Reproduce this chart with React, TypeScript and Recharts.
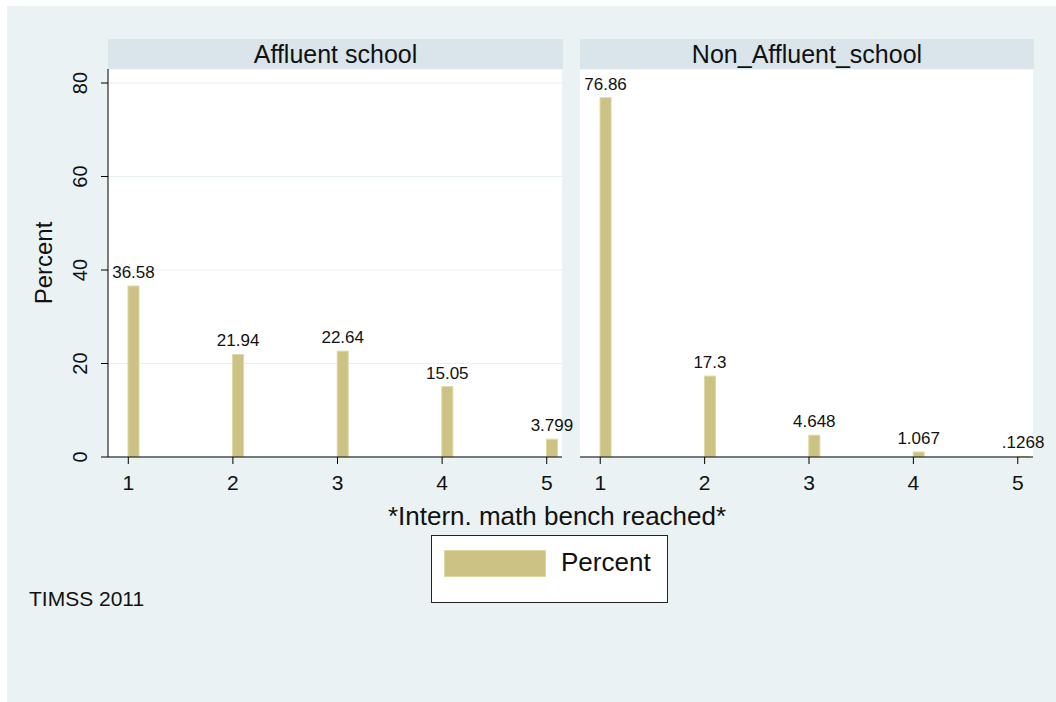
import React from "react";
import { BarChart, Bar, XAxis, YAxis, CartesianGrid, LabelList } from "recharts";

const benchmarks = [1, 2, 3, 4, 5];
const affluentPct = [36.58, 21.94, 22.64, 15.05, 3.799];
const nonAffluentPct = [76.86, 17.3, 4.648, 1.067, 0.1268];
const yTicks = [0, 20, 40, 60, 80];
const panelTitles = ["Affluent school", "Non_Affluent_school"];

const FONT = '"Liberation Sans", Arial, Helvetica, sans-serif';
const BG = "#eaf2f3";
const STRIP = "#d9e5eb";
const BAR = "#cbc283";
const BAR_EDGE = "#ddd8a2";
const SHIFT = 5; // stata draws bars just right of the tick

const toRows = (vals: number[]) => benchmarks.map((b, i) => ({ bench: b, pct: vals[i] }));

// stata-style number label: drop the leading zero
const fmt = (v: number) => (v < 1 ? String(v).replace(/^0/, "") : String(v));

function ShiftedBar(props: any) {
  const { x, y, width, height } = props;
  if (height <= 0) return null;
  return <rect x={x + SHIFT} y={y} width={width} height={height} fill={BAR} stroke={BAR_EDGE} strokeWidth={1} />;
}

function ValueLabel(props: any) {
  const { x, y, width, value } = props;
  return (
    <text x={x + width / 2 + SHIFT} y={y - 8} textAnchor="middle" fontSize={17} fontFamily={FONT} fill="#111">
      {fmt(value)}
    </text>
  );
}

function YTick({ x, y, payload }: any) {
  return (
    <text x={x - 12} y={y} transform={`rotate(-90, ${x - 12}, ${y})`} textAnchor="middle" fontSize={20} fontFamily={FONT} fill="#111">
      {payload.value}
    </text>
  );
}

function XTick({ x, y, payload }: any) {
  return (
    <text x={x} y={y + 24} textAnchor="middle" fontSize={21} fontFamily={FONT} fill="#111">
      {payload.value}
    </text>
  );
}

function Panel({ data, withAxis }: { data: { bench: number; pct: number }[]; withAxis: boolean }) {
  return (
    <BarChart
      width={withAxis ? 583 : 474}
      height={530}
      data={data}
      margin={{ top: 69, right: 21, left: withAxis ? 28 : 0, bottom: 13 }}
    >
      <CartesianGrid vertical={false} stroke="#e8eff1" fill="#ffffff" />
      <XAxis
        dataKey="bench"
        type="number"
        domain={[0.806, 5.146]}
        ticks={benchmarks}
        allowDataOverflow
        height={60}
        axisLine={{ stroke: "#000" }}
        tickLine={{ stroke: "#000" }}
        tickSize={7}
        tick={<XTick />}
      />
      {withAxis ? (
        <YAxis
          domain={[0, 83]}
          ticks={yTicks}
          width={80}
          allowDataOverflow
          axisLine={{ stroke: "#000" }}
          tickLine={{ stroke: "#000" }}
          tickSize={7}
          tick={<YTick />}
          label={(p: any) => {
            const vb = p.viewBox;
            const cx = vb.x + 15;
            const cy = vb.y + vb.height / 2;
            return (
              <text x={cx} y={cy} transform={`rotate(-90, ${cx}, ${cy})`} textAnchor="middle" dominantBaseline="central" fontSize={24} fontFamily={FONT} fill="#111">
                Percent
              </text>
            );
          }}
        />
      ) : (
        <YAxis domain={[0, 83]} ticks={yTicks} width={0} allowDataOverflow axisLine={false} tickLine={false} tick={false} />
      )}
      <Bar dataKey="pct" barSize={11} isAnimationActive={false} shape={<ShiftedBar />}>
        <LabelList dataKey="pct" content={<ValueLabel />} />
      </Bar>
    </BarChart>
  );
}

export default function App() {
  const strip = (left: number, width: number, title: string) => (
    <div
      style={{
        position: "absolute", left, top: 39, width, height: 30, background: STRIP,
        display: "flex", alignItems: "center", justifyContent: "center", fontSize: 25, color: "#111",
      }}
    >
      {title}
    </div>
  );

  return (
    <div style={{ position: "absolute", left: 0, top: 0, width: 1056, height: 702, background: "#fff", fontFamily: FONT, overflow: "hidden" }}>
      <div style={{ position: "absolute", left: 7, top: 6, right: 0, bottom: 0, background: BG }} />
      <div style={{ position: "absolute", left: 0, top: 0 }}>
        <Panel data={toRows(affluentPct)} withAxis />
      </div>
      <div style={{ position: "absolute", left: 580, top: 0 }}>
        <Panel data={toRows(nonAffluentPct)} withAxis={false} />
      </div>
      {strip(108, 455, panelTitles[0])}
      {strip(580, 454, panelTitles[1])}
      <div style={{ position: "absolute", left: 187, width: 740, top: 501, textAlign: "center", fontSize: 26, color: "#111", lineHeight: "30px" }}>
        *Intern. math bench reached*
      </div>
      <div style={{ position: "absolute", left: 431, top: 535, width: 235, height: 66, background: "#fff", border: "1px solid #222" }}>
        <div style={{ position: "absolute", left: 12, top: 14, width: 100, height: 25, background: BAR, border: `1px solid ${BAR_EDGE}` }} />
        <div style={{ position: "absolute", left: 129, top: 11, fontSize: 26, lineHeight: "30px", color: "#111" }}>Percent</div>
      </div>
      <div style={{ position: "absolute", left: 29, top: 586, fontSize: 21, lineHeight: "26px", color: "#111" }}>TIMSS 2011</div>
    </div>
  );
}
